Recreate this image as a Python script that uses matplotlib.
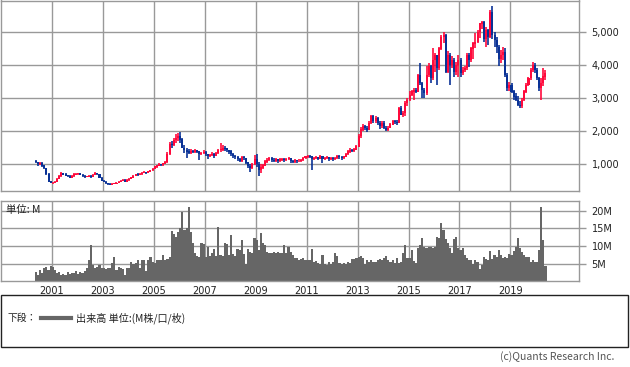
import matplotlib
matplotlib.use('Agg')
import matplotlib.pyplot as plt
import numpy as np
import pandas as pd
from matplotlib.patches import Rectangle
from matplotlib.lines import Line2D
from matplotlib.ticker import FuncFormatter

# monthly bars, May 2000 .. May 2020
months = pd.date_range('2000-05-01', periods=241, freq='MS')
first_open = 1080

close = [
    1060, 1000, 1040, 960, 880, 700, 480, 440,
    440, 470, 560, 640, 720, 690, 660, 640, 600, 640, 690, 700,
    720, 680, 640, 620, 630, 640, 620, 680, 720, 700, 580, 500,
    470, 430, 400, 390, 400, 420, 440, 470, 500, 520, 480, 520,
    560, 600, 650, 690, 680, 700, 740, 760, 740, 780, 820, 860,
    930, 960, 1000, 980, 1020, 1060, 1300, 1600, 1580, 1730, 1800, 1850,
    1750, 1500, 1420, 1380, 1350, 1400, 1380, 1420, 1380, 1300, 1340, 1360,
    1300, 1250, 1280, 1300, 1260, 1330, 1420, 1450, 1500, 1480, 1420, 1380,
    1300, 1250, 1220, 1150, 1100, 1200, 1180, 1050, 950, 880, 1000, 1150,
    1000, 820, 900, 960, 1080, 1130, 1180, 1120, 1100, 1150, 1100, 1140,
    1150, 1120, 1160, 1180, 1100, 1080, 1110, 1090, 1100, 1130, 1180, 1230,
    1250, 1230, 1150, 1180, 1200, 1170, 1230, 1150, 1180, 1200, 1160, 1180,
    1150, 1180, 1250, 1220, 1180, 1230, 1300, 1380, 1430, 1400, 1450, 1540,
    1850, 2050, 2150, 2100, 2050, 2250, 2450, 2300, 2400, 2250, 2150, 2250,
    2100, 2050, 2100, 2200, 2300, 2280, 2250, 2700, 2500, 2550, 2850, 2950,
    3100, 3200, 3250, 3200, 3700, 3450, 3250, 3150, 3700, 3950, 3600, 4150,
    4300, 3900, 4500, 4850, 4900, 3800, 4300, 4000, 4150, 3800, 4000, 4150,
    3750, 3850, 3900, 4300, 4150, 4500, 4650, 4700, 5000, 5250, 5300, 4800,
    5050, 4850, 5600, 4900, 4750, 4550, 4200, 4300, 4400, 3700, 3300, 3400,
    3200, 3050, 2950, 2800, 2750, 2950, 3200, 3400, 3600, 3850, 4000, 3850,
    3600, 3300, 3450, 3650, 3750,
]

high = [
    1130, 1080, 1070, 1060, 980, 900, 720, 500,
    470, 500, 580, 660, 760, 740, 720, 680, 660, 660, 720, 730,
    750, 740, 700, 660, 650, 670, 660, 700, 780, 740, 710, 600,
    520, 490, 440, 420, 420, 440, 460, 500, 530, 560, 540, 540,
    580, 620, 670, 710, 720, 730, 760, 790, 780, 800, 840, 890,
    950, 990, 1030, 1020, 1050, 1100, 1370, 1660, 1700, 1780, 1900, 1950,
    1960, 1800, 1580, 1490, 1450, 1450, 1440, 1460, 1440, 1400, 1380, 1420,
    1390, 1320, 1320, 1360, 1330, 1380, 1450, 1640, 1580, 1560, 1500, 1440,
    1420, 1330, 1290, 1260, 1190, 1240, 1250, 1200, 1080, 1000, 1050, 1280,
    1300, 1080, 1000, 1020, 1120, 1190, 1230, 1220, 1200, 1180, 1170, 1180,
    1200, 1190, 1200, 1230, 1200, 1130, 1150, 1140, 1150, 1170, 1220, 1260,
    1290, 1280, 1260, 1220, 1240, 1220, 1270, 1250, 1220, 1240, 1220, 1220,
    1210, 1230, 1290, 1280, 1240, 1260, 1340, 1420, 1480, 1460, 1490, 1580,
    1900, 2120, 2230, 2200, 2150, 2300, 2500, 2480, 2450, 2420, 2300, 2300,
    2300, 2150, 2150, 2250, 2340, 2350, 2350, 2740, 2750, 2600, 2900, 3000,
    3200, 3250, 3300, 3300, 3720, 4060, 3500, 3300, 3960, 4050, 4000, 4500,
    4350, 4300, 4550, 4900, 4990, 4950, 4420, 4350, 4260, 4200, 4100, 4300,
    4200, 3950, 3980, 4370, 4350, 4550, 4700, 4980, 5050, 5280, 5320, 5320,
    5150, 5100, 5670, 5780, 5000, 4850, 4600, 4450, 4550, 4500, 3750, 3500,
    3450, 3250, 3150, 3050, 2900, 3000, 3250, 3450, 3650, 3900, 4100, 4050,
    3900, 3650, 3600, 3920, 3850,
]

low = [
    1030, 960, 980, 920, 850, 680, 460, 420,
    410, 430, 460, 540, 620, 660, 640, 610, 570, 580, 620, 670,
    680, 660, 620, 590, 600, 610, 590, 600, 660, 680, 570, 490,
    450, 410, 380, 370, 380, 390, 410, 430, 460, 480, 460, 470,
    500, 540, 580, 630, 650, 660, 680, 720, 710, 720, 760, 800,
    850, 900, 940, 940, 960, 1000, 1040, 1280, 1500, 1540, 1650, 1700,
    1640, 1480, 1340, 1190, 1300, 1320, 1330, 1340, 1330, 1130, 1270, 1300,
    1260, 1160, 1220, 1240, 1200, 1240, 1300, 1380, 1400, 1400, 1360, 1300,
    1250, 1180, 1150, 1090, 1070, 1080, 1120, 1000, 880, 780, 860, 980,
    930, 640, 730, 860, 940, 1040, 1100, 1070, 1060, 1070, 1050, 1070,
    1090, 1070, 1090, 1120, 1050, 1030, 1050, 1050, 1060, 1070, 1110, 1160,
    1200, 1190, 840, 1120, 1150, 1130, 1150, 1050, 1120, 1150, 1110, 1130,
    1100, 1120, 1160, 1170, 1130, 1160, 1210, 1280, 1350, 1360, 1380, 1430,
    1520, 1790, 2000, 2020, 1980, 2030, 2220, 2250, 2240, 2200, 2050, 2100,
    2050, 1990, 2000, 2080, 2180, 2220, 2180, 2240, 2480, 2440, 2450, 2750,
    2900, 3050, 2950, 3150, 3180, 3400, 3000, 3000, 3100, 3650, 3450, 3550,
    3800, 3400, 3850, 4450, 4650, 3760, 3750, 3400, 3900, 3650, 3700, 3650,
    3650, 3700, 3780, 3850, 3950, 4100, 4170, 4520, 4650, 4820, 5100, 4680,
    4540, 4600, 4800, 4770, 4550, 4350, 3970, 4050, 4150, 3650, 3200, 3200,
    3150, 2950, 2900, 2750, 2700, 2700, 2900, 3150, 3370, 3550, 3800, 3750,
    3550, 3200, 2950, 3350, 3550,
]

# volume, millions of shares
volume = [
    2.8, 1.9, 3.3, 2.6, 3.8, 4.2, 3.3, 4.4,
    4.2, 3.3, 2.5, 2.8, 1.9, 2.3, 1.9, 2.8, 2.3, 2.6, 2.5, 3.0,
    2.3, 2.8, 2.6, 3.0, 3.8, 6.1, 10.3, 4.7, 3.8, 4.2, 4.7, 3.8,
    3.8, 3.6, 3.8, 4.0, 5.3, 7.1, 3.3, 4.2, 4.0, 3.5, 2.0, 3.8,
    4.0, 5.7, 5.0, 5.3, 6.0, 4.0, 6.0, 6.0, 3.0, 6.0, 7.0, 5.7,
    5.3, 6.0, 6.2, 6.0, 7.6, 6.0, 6.5, 7.0, 14.3, 13.5, 12.7, 14.0,
    15.0, 19.7, 14.6, 15.1, 21.1, 14.1, 10.8, 8.1, 7.2, 7.1, 10.8, 10.5,
    7.1, 9.9, 7.2, 8.1, 9.3, 7.2, 15.5, 7.5, 7.2, 10.8, 10.5, 7.5,
    13.2, 7.8, 7.2, 9.3, 9.0, 11.8, 7.8, 4.9, 9.3, 8.5, 8.1, 12.2,
    11.8, 9.0, 13.7, 11.0, 10.4, 8.5, 8.2, 8.0, 8.3, 8.2, 8.3, 8.0,
    8.2, 10.4, 8.0, 9.8, 8.5, 7.5, 6.6, 6.6, 6.2, 6.4, 6.6, 6.2,
    6.0, 6.2, 9.3, 5.5, 5.8, 5.3, 5.0, 7.4, 5.0, 4.8, 5.5, 5.0,
    5.5, 8.2, 7.3, 5.3, 5.0, 5.3, 5.0, 5.5, 5.2, 6.5, 6.3, 6.6,
    7.0, 7.2, 6.8, 5.0, 6.0, 5.5, 6.0, 5.6, 5.5, 6.2, 6.5, 6.0,
    6.6, 7.3, 6.0, 5.5, 6.0, 5.3, 6.6, 5.2, 5.5, 8.0, 10.4, 6.6,
    6.6, 8.9, 5.8, 5.2, 9.4, 10.4, 12.2, 9.9, 9.5, 9.9, 9.8, 9.6,
    9.9, 12.7, 12.2, 16.6, 14.5, 12.0, 11.0, 9.4, 8.0, 12.0, 12.5, 9.4,
    8.9, 9.4, 7.5, 6.6, 6.2, 6.0, 4.9, 6.1, 5.7, 3.6, 4.7, 7.1,
    6.5, 6.1, 8.7, 6.5, 7.5, 7.0, 8.9, 7.5, 6.6, 7.1, 6.6, 7.8,
    7.5, 8.8, 9.9, 12.2, 9.4, 8.5, 7.5, 7.0, 7.1, 5.7, 6.0, 5.7,
    5.5, 9.0, 21.1, 11.8, 4.3,
]

year_ticks = [2001, 2003, 2005, 2007, 2009, 2011, 2013, 2015, 2017, 2019]
price_ticks = [1000, 2000, 3000, 4000, 5000]
vol_ticks = [5, 10, 15, 20]

UP = '#ff0a3c'
DOWN = '#0a3296'
GRID = '#999999'
CJK = ['Noto Sans CJK JP', 'DejaVu Sans']

t = np.asarray(months.year + (months.month - 0.5) / 12.0)
c = np.array(close, dtype=float)
o = np.concatenate([[first_open], c[:-1]])
h = np.maximum(np.array(high, dtype=float), np.maximum(o, c))
l = np.minimum(np.array(low, dtype=float), np.minimum(o, c))
up = c >= o
colors = np.where(up, UP, DOWN)

W, H = 630, 367
fig = plt.figure(figsize=(W / 100, H / 100), dpi=100)


def box(x0, y0, x1, y1):
    # pixel box (top-left origin) -> figure fraction
    return [x0 / W, 1 - y1 / H, (x1 - x0) / W, (y1 - y0) / H]


ax1 = fig.add_axes(box(0.5, 0.5, 579, 190.7))
ax2 = fig.add_axes(box(0.5, 201.3, 579, 280.7), sharex=ax1)

xlim = (1998.99, 2021.69)

for ax in (ax1, ax2):
    ax.set_xlim(*xlim)
    ax.set_xticks(year_ticks)
    ax.grid(True, color=GRID, linewidth=1.0)
    ax.set_axisbelow(True)
    for s in ax.spines.values():
        s.set_color(GRID)
        s.set_linewidth(1.0)
    ax.yaxis.tick_right()
    ax.tick_params(axis='y', length=5, width=1, color=GRID, pad=4,
                   labelsize=7, labelcolor='#222222')
    ax.tick_params(axis='x', length=0, pad=4, labelsize=7,
                   labelcolor='#222222')

# candles
ax1.vlines(t, l, h, colors=colors, linewidth=1.2)
ax1.bar(t, np.abs(c - o) + 10, bottom=np.minimum(o, c) - 5,
        width=0.95 / 12, color=colors, linewidth=0)
ax1.set_ylim(200, 5948)
ax1.set_yticks(price_ticks)
ax1.yaxis.set_major_formatter(FuncFormatter(lambda v, p: f'{v:,.0f}'))
ax1.tick_params(axis='x', labelbottom=False)

# volume
ax2.bar(t, volume, width=1.0 / 12, color='#666666', linewidth=0)
ax2.set_ylim(0.3, 22.65)
ax2.set_yticks(vol_ticks)
ax2.yaxis.set_major_formatter(FuncFormatter(lambda v, p: f'{v:.0f}M'))
ax2.text(0.009, 0.955, '単位: M', transform=ax2.transAxes, ha='left',
         va='top', fontsize=7.5, family=CJK, color='#222222')

# legend box
fig.patches.append(Rectangle((1 / W, 1 - 346.7 / H), 627 / W, 51.4 / H,
                             transform=fig.transFigure, fill=False,
                             edgecolor='#222222', linewidth=1.0))
ly = 1 - 318 / H
fig.text(8 / W, ly, '下段：', fontsize=7, family=CJK, va='center',
         ha='left', color='#222222')
fig.add_artist(Line2D([41 / W, 71 / W], [ly, ly], transform=fig.transFigure,
                      color='#666666', linewidth=3))
fig.text(76 / W, ly, '出来高 単位:(M株/口/枚)', fontsize=7.3, family=CJK,
         va='center', ha='left', color='#222222')

fig.text(614 / W, 1 - 357 / H, '(c)Quants Research Inc.', fontsize=7.5,
         family=CJK, va='center', ha='right', color='#555555')

fig.savefig('out.png', dpi=100)
